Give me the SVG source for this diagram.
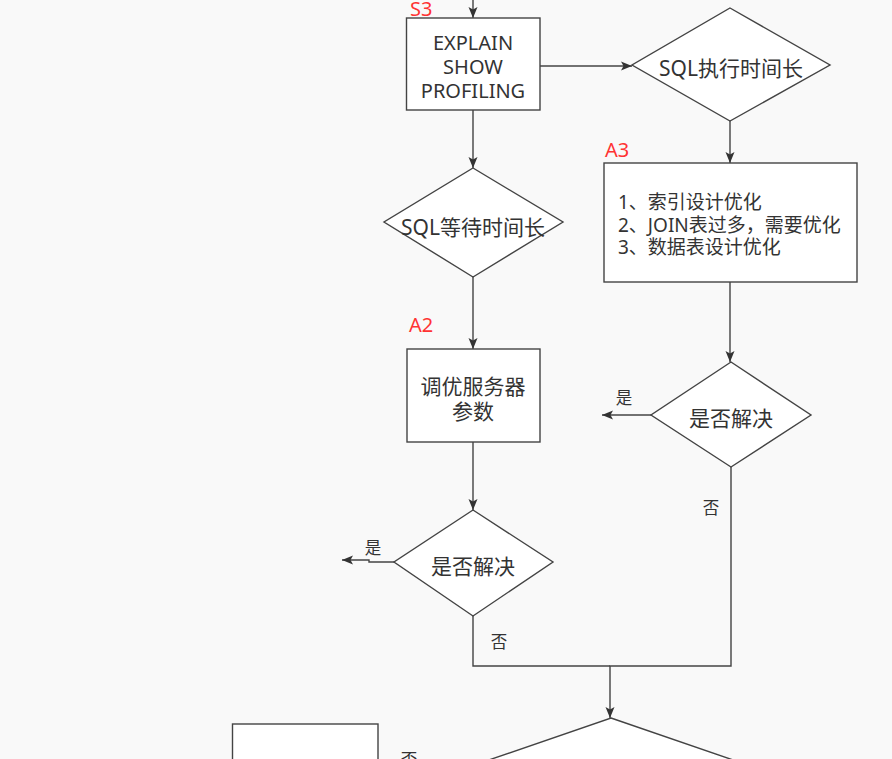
<svg xmlns="http://www.w3.org/2000/svg" width="892" height="759" viewBox="0 0 892 759">
  <defs>
    <marker id="arrow" markerUnits="userSpaceOnUse" markerWidth="12" markerHeight="10" refX="11" refY="5" orient="auto">
      <path d="M0,0.5 L11,5 L0,9.5 L2.5,5 Z" fill="#333"/>
    </marker>
    <style>
      .node { fill: #ffffff; stroke: #444; stroke-width: 1.4; }
      .edge { fill: none; stroke: #444; stroke-width: 1.4; }
      .t { font-family: "Noto Sans", "Noto Sans CJK SC", sans-serif; fill: #333; }
      .main { font-size: 20px; text-anchor: middle; }
      .cjk { font-size: 21px; }
      .list { font-size: 19px; }
      .lbl { font-size: 16.5px; text-anchor: middle; }
      .tag { font-family: "Noto Sans", "Noto Sans CJK SC", sans-serif; font-size: 20px; fill: #ff3333; }
    </style>
  </defs>

  <rect x="0" y="0" width="892" height="759" fill="#f9f9f9"/>

  <!-- connectors -->
  <g id="connectors">
    <path class="edge" d="M473,0 V18" marker-end="url(#arrow)"/>
    <path class="edge" d="M540,66 H632" marker-end="url(#arrow)"/>
    <path class="edge" d="M730,121 V163" marker-end="url(#arrow)"/>
    <path class="edge" d="M473,110 V168" marker-end="url(#arrow)"/>
    <path class="edge" d="M473,277 V349" marker-end="url(#arrow)"/>
    <path class="edge" d="M730,282 V362" marker-end="url(#arrow)"/>
    <path class="edge" d="M651,415 H602" marker-end="url(#arrow)"/>
    <path class="edge" d="M473,442 V510" marker-end="url(#arrow)"/>
    <path class="edge" d="M394,562 H369 V560 H342" marker-end="url(#arrow)"/>
    <path class="edge" d="M731,467 V666 H610 V718" marker-end="url(#arrow)"/>
    <path class="edge" d="M473,616 V666 H610"/>
    <text class="t lbl" x="624" y="404">是</text>
    <text class="t lbl" x="711" y="514">否</text>
    <text class="t lbl" x="373" y="554">是</text>
    <text class="t lbl" x="499" y="648">否</text>
    <text class="t lbl" x="409" y="766">否</text>
  </g>

  <!-- S3: EXPLAIN / SHOW PROFILING -->
  <g id="s3">
    <text class="tag" x="410" y="16">S3</text>
    <rect class="node" x="406.5" y="18" width="133.5" height="92"/>
    <text class="t main" x="473" y="50">EXPLAIN</text>
    <text class="t main" x="473" y="74">SHOW</text>
    <text class="t main" x="473" y="98">PROFILING</text>
  </g>

  <!-- decision: long execution time -->
  <g id="exec-long">
    <polygon class="node" points="730,8 830,65 730,121 632,65"/>
    <text class="t main cjk" x="731" y="76">SQL执行时间长</text>
  </g>

  <!-- A3: query / schema tuning -->
  <g id="a3">
    <text class="tag" x="605" y="157">A3</text>
    <rect class="node" x="604" y="163" width="253" height="119"/>
    <text class="t list" x="618" y="209">1、索引设计优化</text>
    <text class="t list" x="618" y="231.5">2、JOIN表过多，需要优化</text>
    <text class="t list" x="618" y="254">3、数据表设计优化</text>
  </g>

  <!-- decision: long wait time -->
  <g id="wait-long">
    <polygon class="node" points="473,168 563,222 473,277 384,222"/>
    <text class="t main cjk" x="473" y="235">SQL等待时间长</text>
  </g>

  <!-- A2: server parameter tuning -->
  <g id="a2">
    <text class="tag" x="409" y="332">A2</text>
    <rect class="node" x="407" y="349" width="133" height="93"/>
    <text class="t main cjk" x="473" y="394">调优服务器</text>
    <text class="t main cjk" x="473" y="419">参数</text>
  </g>

  <!-- decision: solved? (right branch) -->
  <g id="solved-a3">
    <polygon class="node" points="731,362 811,415 731,467 651,415"/>
    <text class="t main cjk" x="731" y="426">是否解决</text>
  </g>

  <!-- decision: solved? (left branch) -->
  <g id="solved-a2">
    <polygon class="node" points="473,510 553,562 473,616 394,562"/>
    <text class="t main cjk" x="473" y="574">是否解决</text>
  </g>

  <!-- next decision -->
  <g id="next-decision">
    <polygon class="node" points="611,718 771,773 611,828 451,773"/>
  </g>

  <!-- next step box -->
  <g id="next-box">
    <rect class="node" x="232.5" y="724" width="145.5" height="80"/>
  </g>
</svg>
